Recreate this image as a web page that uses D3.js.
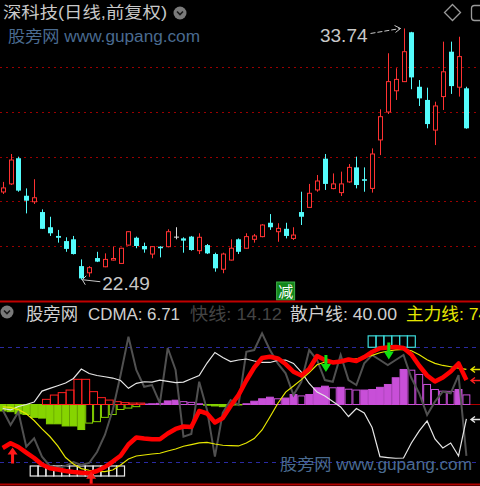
<!DOCTYPE html>
<html>
<head>
<meta charset="utf-8">
<script src="https://cdn.jsdelivr.net/npm/d3@7"></script>
<style>
  body { margin: 0; background: #000; }
  svg { display: block; }
</style>
</head>
<body>
<svg id="chart" width="480" height="486"></svg>
<script>
'use strict';

// ---- price panel (daily candles, 60 sessions) ----
const priceTicks = [24, 26, 28, 30, 32];
const opens = [26.42, 26.78, 27.93, 26.25, 25.98, 25.52, 24.84, 24.45, 24.22, 24.30,
    23.10, 22.80, 23.46, 23.07, 23.37, 23.22, 24.04, 24.37, 24.00, 23.64,
    23.97, 23.97, 24.42, 24.34, 24.42, 23.79, 24.04, 23.64, 22.96, 23.37,
    24.30, 23.90, 24.30, 24.42, 25.04, 24.64, 24.77, 24.34, 25.52, 25.73,
    26.51, 27.91, 26.57, 26.39, 26.87, 27.52, 26.99, 26.58, 28.75, 30.00,
    30.95, 31.36, 33.57, 31.13, 30.54, 29.19, 30.69, 32.70, 31.11, 31.06];
const highs = [26.87, 28.12, 28.00, 26.58, 26.99, 25.64, 25.31, 24.72, 24.39, 24.45,
    23.40, 23.10, 23.74, 23.67, 23.98, 23.92, 24.66, 24.42, 24.15, 24.00,
    23.99, 24.75, 24.84, 24.39, 24.45, 24.57, 24.09, 23.70, 23.70, 24.30,
    24.34, 24.57, 24.54, 24.98, 25.43, 25.02, 25.04, 24.84, 26.43, 26.78,
    27.18, 28.12, 27.25, 27.33, 27.67, 28.00, 27.52, 28.37, 30.12, 32.63,
    31.96, 33.74, 33.59, 31.43, 31.09, 30.46, 33.15, 33.15, 33.37, 31.13];
const lows = [26.33, 26.73, 26.43, 25.46, 25.88, 24.76, 24.45, 24.15, 23.74, 23.62,
    22.49, 22.62, 23.28, 23.05, 23.35, 23.20, 24.02, 23.90, 23.70, 23.45,
    23.49, 23.94, 24.30, 23.70, 23.79, 23.64, 23.64, 22.85, 22.78, 23.35,
    23.64, 23.88, 24.15, 24.39, 24.72, 24.19, 24.34, 24.27, 24.94, 25.71,
    26.43, 26.51, 26.54, 26.24, 26.83, 26.58, 26.43, 26.39, 28.07, 29.91,
    30.54, 31.34, 31.02, 30.27, 29.27, 28.52, 30.09, 30.81, 30.69, 29.25];
const closes = [26.60, 27.85, 26.48, 26.03, 26.16, 24.77, 24.57, 24.37, 23.87, 23.64,
    22.55, 23.03, 23.30, 23.40, 23.44, 23.90, 24.64, 24.00, 23.85, 23.97,
    23.90, 24.64, 24.42, 24.24, 23.82, 24.39, 23.67, 23.00, 23.64, 23.90,
    23.74, 24.42, 24.45, 24.94, 24.84, 24.79, 24.45, 24.49, 25.31, 26.36,
    26.91, 26.78, 26.78, 26.78, 27.52, 26.73, 26.92, 28.12, 29.79, 31.36,
    31.46, 32.70, 31.55, 30.61, 29.46, 30.27, 31.80, 31.16, 32.48, 29.27];
const reduceSignals = [36];   // "减" marker

// ---- indicator panel (CDMA) ----
const indTicks = [10, 90];    // dashed guide levels
const indBase = 50;           // histogram base level
const fastLine = [46.2, 35.7, 44.8, 20.5, 26.4, 13.5, 7.0, 5.6, 7.0, 9.8,
    7.7, 9.1, 16.8, 28.7, 46.2, 70.6, 97.4, 74.1, 62.4, 63.6,
    51.0, 89.5, 74.1, 27.5, 29.4, 65.9, 46.2, 13.5, 44.1, 53.1,
    49.7, 86.9, 88.1, 99.8, 88.1, 78.8, 71.8, 56.6, 65.9, 88.1,
    81.1, 67.1, 65.9, 84.6, 67.1, 63.6, 78.8, 84.6, 81.1, 77.6,
    81.1, 84.6, 68.5, 57.8, 42.7, 52.0, 59.0, 57.8, 70.6, 14.12];
const retailLine = [47.2, 46.2, 48.6, 50.0, 51.7, 59.4, 61.3, 63.1, 65.0, 68.2,
    74.8, 71.7, 70.3, 69.4, 68.5, 66.8, 61.3, 64.8, 65.9, 65.7,
    67.1, 66.2, 65.3, 65.7, 68.0, 70.3, 79.0, 86.4, 82.9, 80.0,
    81.1, 81.8, 80.4, 79.4, 79.4, 80.8, 81.1, 78.7, 72.7, 64.7,
    58.7, 55.9, 52.1, 48.3, 41.6, 47.2, 44.1, 33.9, 13.5, 12.9,
    12.4, 12.6, 23.1, 31.5, 38.5, 25.9, 19.6, 23.1, 14.0, 40.00];
const mainLine = [48.3, 48.0, 46.4, 43.5, 38.8, 32.9, 27.6, 21.0, 12.9, 8.4,
    5.2, 4.0, 3.3, 3.1, 4.2, 7.7, 11.9, 14.0, 14.7, 15.4,
    15.9, 17.5, 18.9, 20.8, 22.0, 23.2, 23.5, 22.4, 21.5, 21.3,
    21.0, 23.1, 26.2, 32.2, 41.3, 50.7, 58.7, 62.9, 67.4, 72.4,
    77.8, 79.7, 78.9, 79.7, 81.1, 82.0, 83.0, 84.4, 86.2, 87.4,
    88.2, 88.5, 87.6, 84.8, 81.3, 78.8, 77.3, 76.4, 75.5, 74.6];
const trendLine = [19.6, 22.9, 20.3, 16.4, 12.6, 8.0, 5.4, 4.5, 3.5, 2.8,
    2.3, 1.9, 3.5, 6.3, 10.1, 14.2, 22.0, 26.9, 26.2, 25.7,
    25.7, 29.7, 32.9, 34.6, 34.3, 45.5, 43.7, 37.4, 40.6, 49.0,
    56.6, 66.8, 75.9, 82.5, 83.4, 82.2, 78.3, 72.9, 70.3, 74.8,
    83.9, 81.1, 79.4, 80.1, 81.5, 80.4, 83.2, 86.7, 89.3, 89.9,
    90.2, 89.5, 85.0, 77.1, 70.3, 66.1, 68.9, 73.1, 78.7, 67.1];
const cdmaBars = [-4.5, -5, -6.5, -7, -9, -9.5, -13.5, -13.5, -15, -15,
    -17.5, -13, -12, -9, -7, -3.5, -2.5, -1.5, 0.3, 0.5,
    0.8, 2.5, 3, 2, 1.5, 0.5, -0.5, -1, -1.5, -0.5,
    -0.3, 0.5, 2.3, 4, 5.1, 4, 4.5, 7, 6, 7,
    11.7, 12.8, 11.7, 12, 10.7, 10.1, 10.1, 10.5, 12, 14,
    18.7, 24.5, 24, 21, 14, 10.5, 9.3, 9.2, 10.5, 6.71];
const inflowBars = [0, 0, 0, 0, 0, 3.6, 6.6, 8.3, 10.1, 17.6,
    17.6, 9.0, 4.8, 3.1, 2.0, 1.3, 1.0, 1.0, 0, 0,
    0, 0, 0, 0, 0, 0, 0, 0, 0, 0,
    0, 0, 0, 0, 0, 0, 0, 0, 0, 0,
    0, 0, 0, 0, 0, 0, 0, 0, 0, 0,
    0, 0, 0, 0, 0, 0, 0, 0, 0, 0];
const buySignals = [1, 11];
const sellSignals = [41, 49];
const topBoxes = [47, 48, 49, 50, 51, 52];
const bottomBoxes = [4, 5, 6, 7, 8, 9, 10, 11, 12, 13, 14, 15];

const W = 480;
const H = 486;
const UP = '#ff3232';
const DOWN = '#54fcfc';
const FLAT = '#dcdcdc';
const FONT = '"Liberation Sans", "Noto Sans CJK SC", sans-serif';

let svg = d3.select('#chart');
svg.append('rect').attr('width', W).attr('height', H).attr('fill', '#000');

let n = closes.length;
let x = d3.scaleLinear().domain([0, n - 1]).range([2.7, 466.4]);
let step = x(1) - x(0);
let yPrice = d3.scaleLinear().domain([24, 30]).range([246, 112]);
let yInd = d3.scaleLinear().domain([10, 90]).range([461.7, 347.3]);
let px = function(i) {
    return Math.round(x(i));
};

// ---------- price panel ----------
svg.append('g').selectAll('line')
    .data(priceTicks)
    .enter().append('line')
    .attr('x1', 0).attr('x2', W)
    .attr('y1', d => Math.round(yPrice(d)) + 0.5)
    .attr('y2', d => Math.round(yPrice(d)) + 0.5)
    .attr('stroke', '#9a0000')
    .attr('stroke-dasharray', '2,4');

let candle = svg.append('g').selectAll('g')
    .data(d3.range(n))
    .enter().append('g');

let colorOf = function(i) {
    if (closes[i] > opens[i]) return UP;
    if (closes[i] < opens[i]) return DOWN;
    return FLAT;
};

candle.append('line')
    .attr('x1', i => px(i) + 0.5).attr('x2', i => px(i) + 0.5)
    .attr('y1', i => yPrice(highs[i]))
    .attr('y2', i => yPrice(lows[i]))
    .attr('stroke', colorOf);

candle.append('rect')
    .attr('x', i => closes[i] > opens[i] ? px(i) - 1.5 : px(i) - 2)
    .attr('width', i => closes[i] > opens[i] ? 4 : 5)
    .attr('y', i => yPrice(Math.max(opens[i], closes[i])))
    .attr('height', i => Math.max(1, yPrice(Math.min(opens[i], closes[i])) -
        yPrice(Math.max(opens[i], closes[i]))))
    .attr('fill', i => closes[i] > opens[i] ? '#000' : colorOf(i))
    .attr('stroke', i => closes[i] > opens[i] ? UP : 'none');

// high / low markers
let hiIdx = d3.maxIndex(highs);
let loIdx = d3.minIndex(lows);
let hx = x(hiIdx) - 3;
let hy = yPrice(highs[hiIdx]);
svg.append('path')
    .attr('d', 'M' + (hx - 30) + ',' + (hy + 5) + 'L' + hx + ',' + hy)
    .attr('stroke', '#c8c8c8').attr('stroke-dasharray', '5,2').attr('fill', 'none');
svg.append('path')
    .attr('d', 'M' + (hx - 6) + ',' + (hy - 3) + 'L' + hx + ',' + hy + 'L' + (hx - 5) + ',' + (hy + 4))
    .attr('stroke', '#c8c8c8').attr('fill', 'none');
svg.append('text')
    .attr('x', hx - 33).attr('y', hy + 14)
    .attr('text-anchor', 'end')
    .attr('font-family', FONT).attr('font-size', 19)
    .attr('fill', '#c8c8c8')
    .text(highs[hiIdx].toFixed(2));

let lx = x(loIdx) + 1;
let ly = yPrice(lows[loIdx]);
svg.append('path')
    .attr('d', 'M' + lx + ',' + ly + 'L' + (lx + 18) + ',' + (ly + 2))
    .attr('stroke', '#c8c8c8').attr('fill', 'none');
svg.append('path')
    .attr('d', 'M' + (lx + 4) + ',' + (ly - 4) + 'L' + lx + ',' + ly + 'L' + (lx + 3) + ',' + (ly + 5))
    .attr('stroke', '#c8c8c8').attr('fill', 'none');
svg.append('text')
    .attr('x', lx + 20).attr('y', ly + 10)
    .attr('font-family', FONT).attr('font-size', 19)
    .attr('fill', '#c8c8c8')
    .text(lows[loIdx].toFixed(2));

// "减" boxes
let reduce = svg.append('g').selectAll('g')
    .data(reduceSignals)
    .enter().append('g');
reduce.append('rect')
    .attr('x', i => x(i) - 9).attr('y', 282)
    .attr('width', 18).attr('height', 18)
    .attr('fill', '#12861a').attr('stroke', '#3fb04a');
reduce.append('text')
    .attr('x', i => x(i)).attr('y', 297)
    .attr('text-anchor', 'middle')
    .attr('font-family', FONT).attr('font-size', 15)
    .attr('fill', '#ffffff')
    .text('减');

// title and icons
svg.append('text')
    .attr('x', 3).attr('y', 18)
    .attr('font-family', FONT).attr('font-size', 16)
    .attr('fill', '#c8c8c8')
    .attr('textLength', 164).attr('lengthAdjust', 'spacingAndGlyphs')
    .text('深科技(日线,前复权)');

let chevron = function(cx, cy) {
    svg.append('circle').attr('cx', cx).attr('cy', cy).attr('r', 6.5).attr('fill', '#7a7a7a');
    svg.append('path')
        .attr('d', 'M' + (cx - 3) + ',' + (cy - 1.5) + 'L' + cx + ',' + (cy + 1.5) + 'L' + (cx + 3) + ',' + (cy - 1.5))
        .attr('stroke', '#1a1a1a').attr('stroke-width', 1.6).attr('fill', 'none');
};
chevron(180, 13);

svg.append('path')
    .attr('d', 'M452.5,4.5L460.5,12.5L452.5,20.5L444.5,12.5Z')
    .attr('stroke', '#9a9a9a').attr('stroke-width', 1.3).attr('fill', 'none');
svg.append('rect')
    .attr('x', 471.5).attr('y', 5.5).attr('width', 16).attr('height', 15).attr('rx', 3)
    .attr('stroke', '#9a9a9a').attr('stroke-width', 1.3).attr('fill', 'none');

let watermark = function(wx, wy) {
    svg.append('text')
        .attr('x', wx).attr('y', wy)
        .attr('font-family', FONT).attr('font-size', 16)
        .attr('fill', '#4a6b90')
        .attr('textLength', 192).attr('lengthAdjust', 'spacingAndGlyphs')
        .text('股旁网 www.gupang.com');
};
watermark(8, 42);

// separator
svg.append('line')
    .attr('x1', 0).attr('x2', W).attr('y1', 301.5).attr('y2', 301.5)
    .attr('stroke', '#c00000').attr('stroke-width', 2);

// ---------- indicator panel ----------
svg.append('clipPath').attr('id', 'ind-clip')
    .append('rect').attr('x', 0).attr('y', 303).attr('width', W).attr('height', 181);
let ind = svg.append('g').attr('clip-path', 'url(#ind-clip)');

ind.selectAll('.guide')
    .data(indTicks)
    .enter().append('line')
    .attr('class', 'guide')
    .attr('x1', 0).attr('x2', W)
    .attr('y1', d => Math.round(yInd(d)) + 0.5)
    .attr('y2', d => Math.round(yInd(d)) + 0.5)
    .attr('stroke', '#2a2aa0')
    .attr('stroke-dasharray', '4,4');

let y0 = yInd(indBase);
ind.append('line')
    .attr('x1', 0).attr('x2', W).attr('y1', y0).attr('y2', y0)
    .attr('stroke', '#b00000');

// CDMA histogram: filled when growing, hollow when shrinking
ind.selectAll('.cdma')
    .data(d3.range(n).filter(i => cdmaBars[i] !== 0))
    .enter().append('rect')
    .attr('class', 'cdma')
    .attr('x', i => x(i) - step / 2 + 0.5)
    .attr('width', step - 1)
    .attr('y', i => Math.min(y0, yInd(indBase + cdmaBars[i])))
    .attr('height', i => Math.abs(yInd(indBase + cdmaBars[i]) - y0))
    .attr('fill', function(i) {
        let grow = i === 0 || Math.abs(cdmaBars[i]) >= Math.abs(cdmaBars[i - 1]);
        if (!grow) return '#000';
        return cdmaBars[i] > 0 ? '#c84fd8' : '#86d400';
    })
    .attr('stroke', i => cdmaBars[i] > 0 ? '#c84fd8' : '#86d400');

ind.selectAll('.inflow')
    .data(d3.range(n).filter(i => inflowBars[i] > 0))
    .enter().append('rect')
    .attr('class', 'inflow')
    .attr('x', i => x(i) + 0.5)
    .attr('width', step)
    .attr('y', i => yInd(indBase + inflowBars[i]))
    .attr('height', i => y0 - yInd(indBase + inflowBars[i]))
    .attr('fill', 'none')
    .attr('stroke', '#ff2020');

ind.selectAll('.bbox')
    .data(bottomBoxes)
    .enter().append('rect')
    .attr('class', 'bbox')
    .attr('x', i => x(i) - step / 2)
    .attr('width', step)
    .attr('y', yInd(7))
    .attr('height', yInd(0) - yInd(7))
    .attr('fill', 'none')
    .attr('stroke', '#e8e8e8')
    .attr('stroke-width', 1.2);

ind.selectAll('.tbox')
    .data(topBoxes)
    .enter().append('rect')
    .attr('class', 'tbox')
    .attr('x', i => x(i) - step / 2)
    .attr('width', step)
    .attr('y', yInd(98))
    .attr('height', yInd(90) - yInd(98))
    .attr('fill', 'none')
    .attr('stroke', '#3cd8d8')
    .attr('stroke-width', 1.2);

let lineOf = function(values) {
    return d3.line()
        .x((d, i) => x(i))
        .y(d => yInd(d))(values);
};

ind.append('path').attr('d', lineOf(fastLine))
    .attr('fill', 'none').attr('stroke', '#505050').attr('stroke-width', 2);
ind.append('path').attr('d', lineOf(retailLine))
    .attr('fill', 'none').attr('stroke', '#e6e6e6').attr('stroke-width', 1.2);
ind.append('path').attr('d', lineOf(mainLine))
    .attr('fill', 'none').attr('stroke', '#e6e600').attr('stroke-width', 1.2);
ind.append('path').attr('d', lineOf(trendLine))
    .attr('fill', 'none').attr('stroke', '#ff0000').attr('stroke-width', 4.5)
    .attr('stroke-linejoin', 'round');

// buy / sell arrows (buy arrow tip sits just under the trend line, kept above the floor)
ind.selectAll('.buy')
    .data(buySignals)
    .enter().append('path')
    .attr('class', 'buy')
    .attr('d', function(i) {
        let cx = x(i) + 2;
        let t = yInd(Math.max(trendLine[i] - 3, 3));
        return 'M' + cx + ',' + t + 'L' + (cx + 5) + ',' + (t + 7) + 'L' + (cx + 1.5) + ',' + (t + 7) +
            'L' + (cx + 1.5) + ',' + (t + 16) + 'L' + (cx - 1.5) + ',' + (t + 16) +
            'L' + (cx - 1.5) + ',' + (t + 7) + 'L' + (cx - 5) + ',' + (t + 7) + 'Z';
    })
    .attr('fill', '#ff1a1a');

ind.selectAll('.sell')
    .data(sellSignals)
    .enter().append('path')
    .attr('class', 'sell')
    .attr('d', function(i) {
        let cx = x(i) + 1;
        let t = yInd(trendLine[i]) - 5;
        return 'M' + (cx - 1.5) + ',' + t + 'L' + (cx + 1.5) + ',' + t + 'L' + (cx + 1.5) + ',' + (t + 9) +
            'L' + (cx + 5) + ',' + (t + 9) + 'L' + cx + ',' + (t + 17) + 'L' + (cx - 5) + ',' + (t + 9) +
            'L' + (cx - 1.5) + ',' + (t + 9) + 'Z';
    })
    .attr('fill', '#10e010');

// value pointers at the right edge
let pointers = [
    {v: mainLine[n - 1], c: '#e6e600'},
    {v: trendLine[n - 1], c: '#ff2020'},
    {v: retailLine[n - 1], c: '#e6e6e6'}
];
svg.selectAll('.ptr')
    .data(pointers)
    .enter().append('path')
    .attr('class', 'ptr')
    .attr('d', function(d) {
        let py = Math.round(yInd(d.v)) + 0.5;
        return 'M480,' + py + 'L471,' + py + 'M475,' + (py - 3) + 'L471,' + py + 'L475,' + (py + 3);
    })
    .attr('stroke', d => d.c).attr('stroke-width', 1.3).attr('fill', 'none');

// bottom border
svg.append('line')
    .attr('x1', 0).attr('x2', W).attr('y1', 484.5).attr('y2', 484.5)
    .attr('stroke', '#b00000').attr('stroke-width', 2);

// indicator header (the last label runs past the right edge, as on the terminal)
chevron(7, 312);
let header = [
    {t: '股旁网', x: 26, c: '#d0d0d0', w: 52},
    {t: 'CDMA: ' + cdmaBars[n - 1].toFixed(2), x: 88, c: '#d0d0d0', w: 92},
    {t: '快线: ' + fastLine[n - 1].toFixed(2), x: 190, c: '#444444', w: 92},
    {t: '散户线: ' + retailLine[n - 1].toFixed(2), x: 290, c: '#d0d0d0', w: 107},
    {t: '主力线: ' + mainLine[n - 1].toFixed(2), x: 406, c: '#e6e600', w: 107}
];
svg.selectAll('.hdr')
    .data(header)
    .enter().append('text')
    .attr('class', 'hdr')
    .attr('x', d => d.x).attr('y', 320)
    .attr('font-family', FONT).attr('font-size', 17)
    .attr('fill', d => d.c)
    .attr('textLength', d => d.w).attr('lengthAdjust', 'spacingAndGlyphs')
    .text(d => d.t);

watermark(280, 470);
</script>
</body>
</html>
